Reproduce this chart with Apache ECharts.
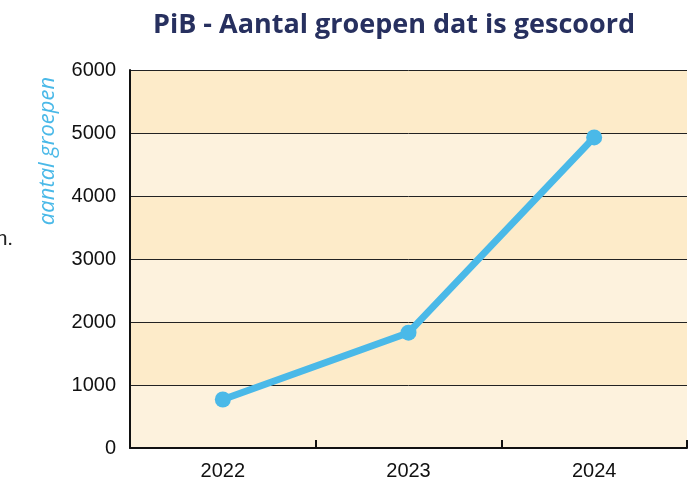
<!DOCTYPE html>
<html>
<head>
<meta charset="utf-8">
<script src="https://cdn.jsdelivr.net/npm/echarts@6/dist/echarts.min.js"></script>
<style>
  html, body { margin: 0; padding: 0; background: #fff; }
  #chart { width: 699px; height: 481px; }
</style>
</head>
<body>
<div id="chart"></div>
<script>
// data
const years = ['2022', '2023', '2024'];
const groepen = [770, 1830, 4930];
const yTicks = [0, 1000, 2000, 3000, 4000, 5000, 6000];

const myChart = echarts.init(document.getElementById('chart'));
myChart.setOption({
    animation: false,
    title: {
        text: 'PiB - Aantal groepen dat is gescoord',
        left: 389,
        top: 7,
        textAlign: 'center',
        textStyle: {
            fontFamily: 'Open Sans',
            fontWeight: 'bold',
            fontSize: 27,
            color: '#27305f'
        }
    },
    graphic: [
        {
            type: 'text',
            x: 48,
            y: 151,
            rotation: Math.PI / 2,
            style: {
                text: 'aantal groepen',
                fontFamily: 'Open Sans',
                fontStyle: 'italic',
                fontSize: 22,
                fill: '#4ab9e8',
                align: 'center',
                verticalAlign: 'middle'
            }
        },
        {
            type: 'text',
            x: -4,
            y: 240,
            style: {
                text: 'n.',
                fontFamily: 'Roboto',
                fontSize: 21,
                fill: '#222',
                verticalAlign: 'middle'
            }
        }
    ],
    grid: {
        left: 130,
        right: 12,
        top: 70,
        bottom: 32
    },
    xAxis: {
        type: 'category',
        data: years,
        boundaryGap: true,
        axisLine: { lineStyle: { color: '#111', width: 2 } },
        axisTick: { show: true, inside: true, length: 8, lineStyle: { color: '#111', width: 2 } },
        axisLabel: {
            fontFamily: 'Liberation Sans',
            fontSize: 20,
            color: '#111',
            margin: 13
        }
    },
    yAxis: {
        type: 'value',
        min: yTicks[0],
        max: yTicks[yTicks.length - 1],
        interval: 1000,
        axisLine: { show: true, lineStyle: { color: '#111', width: 2 } },
        axisTick: { show: false },
        axisLabel: {
            fontFamily: 'Liberation Sans',
            fontSize: 20,
            color: '#111',
            margin: 14,
            formatter: v => String(v)
        },
        splitLine: { lineStyle: { color: '#222', width: 1 } },
        splitArea: {
            show: true,
            areaStyle: { color: ['#fdf2dd', '#fdebc9'] }
        }
    },
    series: [
        {
            name: 'groepen',
            type: 'line',
            data: groepen,
            symbol: 'circle',
            symbolSize: 16,
            lineStyle: { color: '#4ab9e8', width: 7 },
            itemStyle: { color: '#4ab9e8' }
        }
    ]
});
</script>
</body>
</html>
